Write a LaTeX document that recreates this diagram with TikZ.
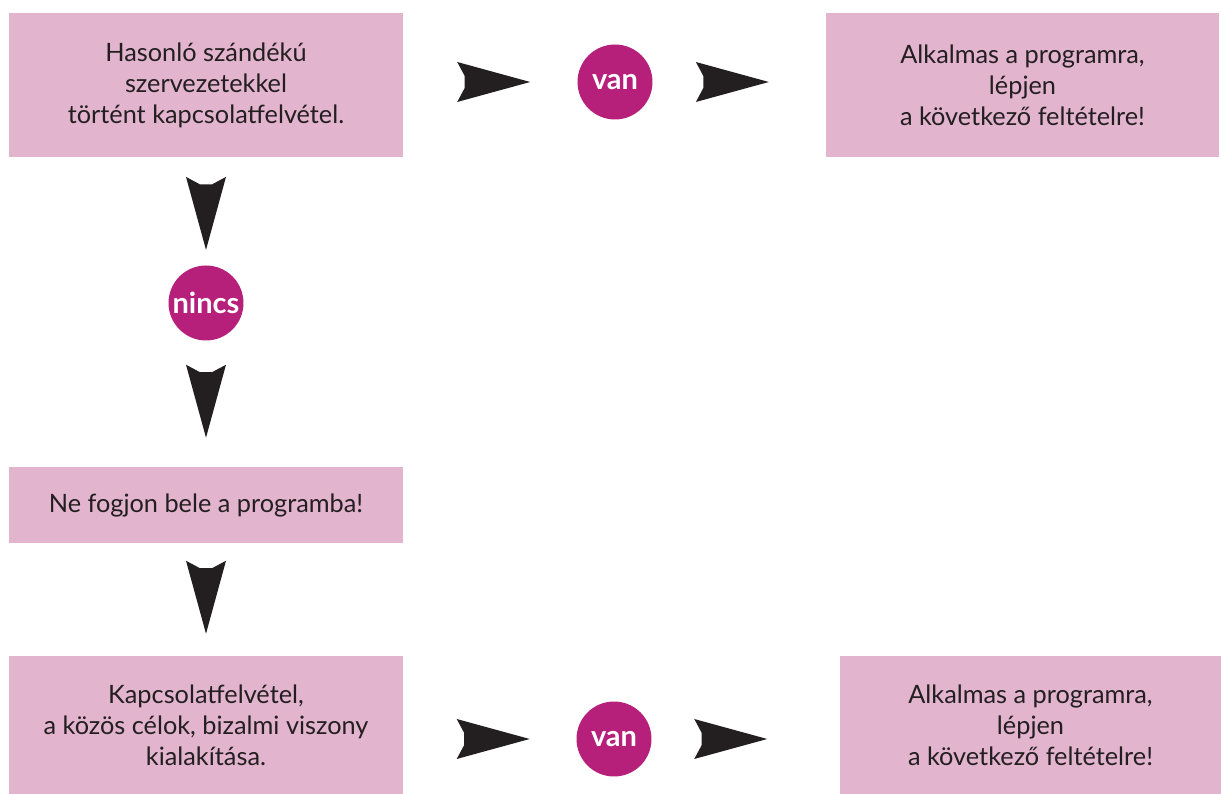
\documentclass[tikz,border=0pt]{standalone}
\usepackage{fontspec}
\setmainfont{Lato}
\definecolor{boxpink}{RGB}{226,180,206}
\definecolor{dotmagenta}{RGB}{182,32,122}
\definecolor{headfill}{RGB}{35,31,32}
\tikzset{
  stepbox/.style={rectangle, fill=boxpink, inner sep=0pt, align=center,
    text=headfill, font=\fontsize{14.4}{17.6}\selectfont},
  answer/.style={circle, fill=dotmagenta, inner sep=0pt, minimum size=1.5cm,
    text=white, font=\fontsize{16.5}{18}\selectfont\bfseries},
  pics/headshape/.style={code={
    \fill[headfill] (36.5,0) -- (-36.5,20) -- (-29,6) -- (-29,-6) -- (-36.5,-20) -- cycle;
  }},
}
\begin{document}
\begin{tikzpicture}[x=0.02cm,y=0.02cm]
 \useasboundingbox (0,0) rectangle (1221,794);
 \begin{scope}
  % Define the boxes
  \node[stepbox, minimum width=7.88cm, minimum height=2.88cm] (contact) at (206,709)
    {Hasonló szándékú\\ szervezetekkel\\ történt kapcsolatfelvétel.};
  \node[stepbox, minimum width=7.86cm, minimum height=2.88cm] (suitA) at (1022.5,709)
    {Alkalmas a programra,\\ lépjen\\ a következő feltételre!};
  \node[stepbox, minimum width=7.88cm, minimum height=1.52cm] (stop) at (206,289)
    {Ne fogjon bele a programba!};
  \node[stepbox, minimum width=7.88cm, minimum height=2.76cm] (build) at (206,69)
    {Kapcsolatfelvétel,\\ a közös célok, bizalmi viszony\\ kialakítása.};
  \node[stepbox, minimum width=7.62cm, minimum height=2.76cm] (suitB) at (1030.5,69)
    {Alkalmas a programra,\\ lépjen\\ a következő feltételre!};
  % Define the answers
  \node[answer] (yesA) at (615,712) {van};
  \node[answer] (none) at (206,491) {nincs};
  \node[answer] (yesB) at (614,55) {van};
 \end{scope}
 % Draw the arrows
 \path (contact.east |- yesA) -- (yesA) pic[pos=.52, sloped] {headshape};
 \path (yesA) -- (suitA.west |- yesA) pic[pos=.46, sloped] {headshape};
 \path (contact) -- (none) pic[pos=.52, sloped, allow upside down] {headshape};
 \path (none) -- (stop) pic[pos=.48, sloped, allow upside down] {headshape};
 \path (stop) -- (build) pic[pos=.48, sloped, allow upside down] {headshape};
 \path (build.east |- yesB) -- (yesB) pic[pos=.52, sloped] {headshape};
 \path (yesB) -- (suitB.west |- yesB) pic[pos=.42, sloped] {headshape};
\end{tikzpicture}
\end{document}
